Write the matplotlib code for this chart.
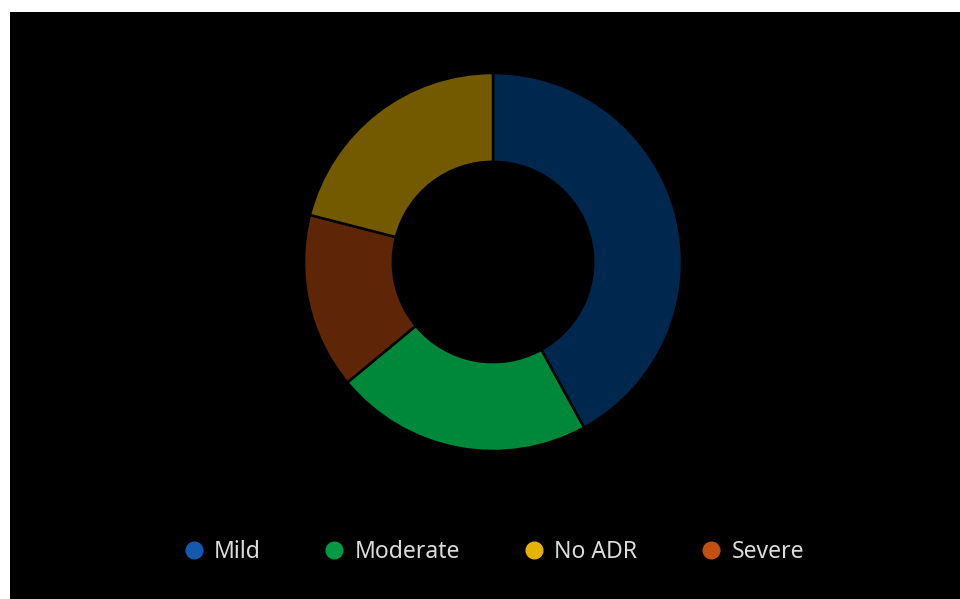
import matplotlib
matplotlib.use("Agg")
import matplotlib.pyplot as plt
from matplotlib.lines import Line2D

# slice order as drawn, clockwise from 12 o'clock
slice_labels = ["Mild", "Moderate", "Severe", "No ADR"]
slice_values = [42, 22, 15, 21]
slice_colors = ["#00284f", "#00883a", "#5e2607", "#735a00"]

# legend order and marker colours
legend_labels = ["Mild", "Moderate", "No ADR", "Severe"]
legend_colors = ["#1459ad", "#009a44", "#e6b300", "#c4500f"]

plt.rcParams['font.family'] = ['Noto Sans', 'DejaVu Sans']

W, H = 960, 599
fig = plt.figure(figsize=(W / 100, H / 100), dpi=100, facecolor="white")

# black panel with a thin white margin at left and top
bg = fig.add_axes([10 / W, 0, 1 - 10 / W, (H - 12) / H])
bg.set_facecolor("black")
bg.set_xticks([])
bg.set_yticks([])
for s in bg.spines.values():
    s.set_visible(False)

cx, cy, r = 493, 262, 189
ax = fig.add_axes([(cx - r) / W, (H - cy - r) / H, 2 * r / W, 2 * r / H])
ax.pie(slice_values, colors=slice_colors, startangle=90, counterclock=False,
       wedgeprops=dict(width=0.47, edgecolor="black", linewidth=1.8))
ax.set_xlim(-1.0, 1.0)
ax.set_ylim(-1.0, 1.0)
ax.set_aspect("auto")
ax.axis("off")

handles = [Line2D([], [], marker="o", linestyle="none", markersize=12,
                  markerfacecolor=c, markeredgecolor=c) for c in legend_colors]
leg = fig.legend(handles, legend_labels, loc="center",
                 bbox_to_anchor=(493 / W, 1 - 552 / H), ncol=4,
                 frameon=False, fontsize=16.5, handletextpad=0.4,
                 columnspacing=2.7, handlelength=1.0)
for t in leg.get_texts():
    t.set_color("#dcdcdc")

fig.savefig("out.png", dpi=100, facecolor="white")
